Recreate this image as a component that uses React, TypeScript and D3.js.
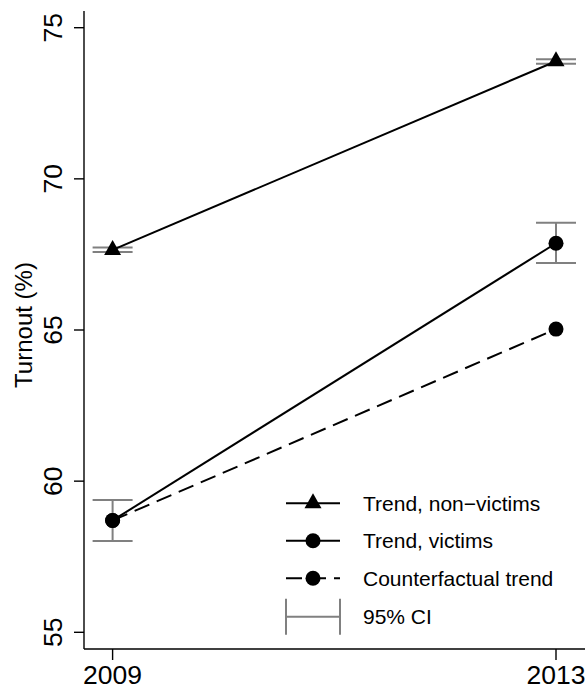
import React from "react";
import * as d3 from "d3";

const years = [2009, 2013];
const yTicks = [55, 60, 65, 70, 75];
const nonVictims = [67.65, 73.89];
const nonVictimsLo = [67.58, 73.81];
const nonVictimsHi = [67.73, 73.96];
const victims = [58.7, 67.87];
const victimsLo = [58.02, 67.22];
const victimsHi = [59.38, 68.55];
const counterfactual = [58.7, 65.03];
const legendLabels = ["Trend, non\u2212victims", "Trend, victims", "Counterfactual trend", "95% CI"];

const W = 585;
const H = 687;
const FONT = "'Liberation Sans', Arial, Helvetica, sans-serif";

export default function App() {
  const x = d3.scaleLinear().domain([2009, 2013]).range([112.6, 556]);
  const y = d3.scaleLinear().domain([55, 75]).range([632.3, 27.7]);
  const axisX = 84;
  const axisTop = 11;
  const axisBottom = 649;
  const line = d3
    .line<number>()
    .x((_, i) => x(years[i]))
    .y((d) => y(d));
  const tri = (cx: number, cy: number) =>
    `M${cx},${cy - 10}L${cx + 8.5},${cy + 5}L${cx - 8.5},${cy + 5}Z`;
  const ciHalf = 20;
  const gray = "#808080";
  const legendRows = [503.3, 540.8, 578.3, 616.7];
  const lx0 = 286;
  const lx1 = 340;
  const lmid = 313;
  const ltext = 363;

  const ci = (lo: number[], hi: number[], key: string) =>
    years.map((yr, i) => (
      <g key={key + i} stroke={gray} strokeWidth={2} fill="none">
        <line x1={x(yr)} x2={x(yr)} y1={y(lo[i])} y2={y(hi[i])} />
        <line x1={x(yr) - ciHalf} x2={x(yr) + ciHalf} y1={y(lo[i])} y2={y(lo[i])} />
        <line x1={x(yr) - ciHalf} x2={x(yr) + ciHalf} y1={y(hi[i])} y2={y(hi[i])} />
      </g>
    ));

  return (
    <svg width={W} height={H} style={{ position: "absolute", left: 0, top: 0, background: "#fff" }} fontFamily={FONT}>
      <rect width={W} height={H} fill="#fff" />
      {/* axes */}
      <line x1={axisX} x2={axisX} y1={axisTop} y2={axisBottom} stroke="#000" strokeWidth={1.4} />
      <line x1={axisX} x2={W} y1={axisBottom} y2={axisBottom} stroke="#000" strokeWidth={1.4} />
      {yTicks.map((t) => (
        <g key={"yt" + t}>
          <line x1={axisX - 10} x2={axisX} y1={y(t)} y2={y(t)} stroke="#000" strokeWidth={1.4} />
          <text
            transform={`translate(62,${y(t)}) rotate(-90)`}
            textAnchor="middle"
            fontSize={26.5}
            fill="#000"
          >
            {t}
          </text>
        </g>
      ))}
      {years.map((yr) => (
        <g key={"xt" + yr}>
          <line x1={x(yr)} x2={x(yr)} y1={axisBottom} y2={axisBottom + 11} stroke="#000" strokeWidth={1.4} />
          <text x={x(yr)} y={684} textAnchor="middle" fontSize={26.5} fill="#000">
            {yr}
          </text>
        </g>
      ))}
      <text transform={`translate(32,325) rotate(-90)`} textAnchor="middle" fontSize={24} fill="#000">
        Turnout (%)
      </text>

      {/* CIs */}
      {ci(nonVictimsLo, nonVictimsHi, "nv")}
      {ci(victimsLo, victimsHi, "v")}

      {/* lines */}
      <path d={line(counterfactual) || ""} fill="none" stroke="#000" strokeWidth={2} strokeDasharray="16,8" />
      <path d={line(victims) || ""} fill="none" stroke="#000" strokeWidth={2} />
      <path d={line(nonVictims) || ""} fill="none" stroke="#000" strokeWidth={2} />

      {/* markers */}
      {nonVictims.map((v, i) => (
        <path key={"tri" + i} d={tri(x(years[i]), y(v))} fill="#000" />
      ))}
      {victims.map((v, i) => (
        <circle key={"vc" + i} cx={x(years[i])} cy={y(v)} r={7.5} fill="#000" />
      ))}
      {counterfactual.map((v, i) => (
        <circle key={"cc" + i} cx={x(years[i])} cy={y(v)} r={7.5} fill="#000" />
      ))}

      {/* legend */}
      <g>
        <line x1={lx0} x2={lx1} y1={legendRows[0]} y2={legendRows[0]} stroke="#000" strokeWidth={2} />
        <path d={tri(lmid, legendRows[0])} fill="#000" />
        <line x1={lx0} x2={lx1} y1={legendRows[1]} y2={legendRows[1]} stroke="#000" strokeWidth={2} />
        <circle cx={lmid} cy={legendRows[1]} r={7.5} fill="#000" />
        <line x1={lx0} x2={lx1} y1={legendRows[2]} y2={legendRows[2]} stroke="#000" strokeWidth={2} strokeDasharray="16,8" />
        <circle cx={lmid} cy={legendRows[2]} r={7.5} fill="#000" />
        <g stroke={gray} strokeWidth={2}>
          <line x1={lx0} x2={lx1} y1={legendRows[3]} y2={legendRows[3]} />
          <line x1={lx0} x2={lx0} y1={legendRows[3] - 18} y2={legendRows[3] + 18} />
          <line x1={lx1} x2={lx1} y1={legendRows[3] - 18} y2={legendRows[3] + 18} />
        </g>
        {legendLabels.map((l, i) => (
          <text key={"lt" + i} x={ltext} y={legendRows[i]} dy="0.35em" fontSize={21} fill="#000">
            {l}
          </text>
        ))}
      </g>
    </svg>
  );
}
